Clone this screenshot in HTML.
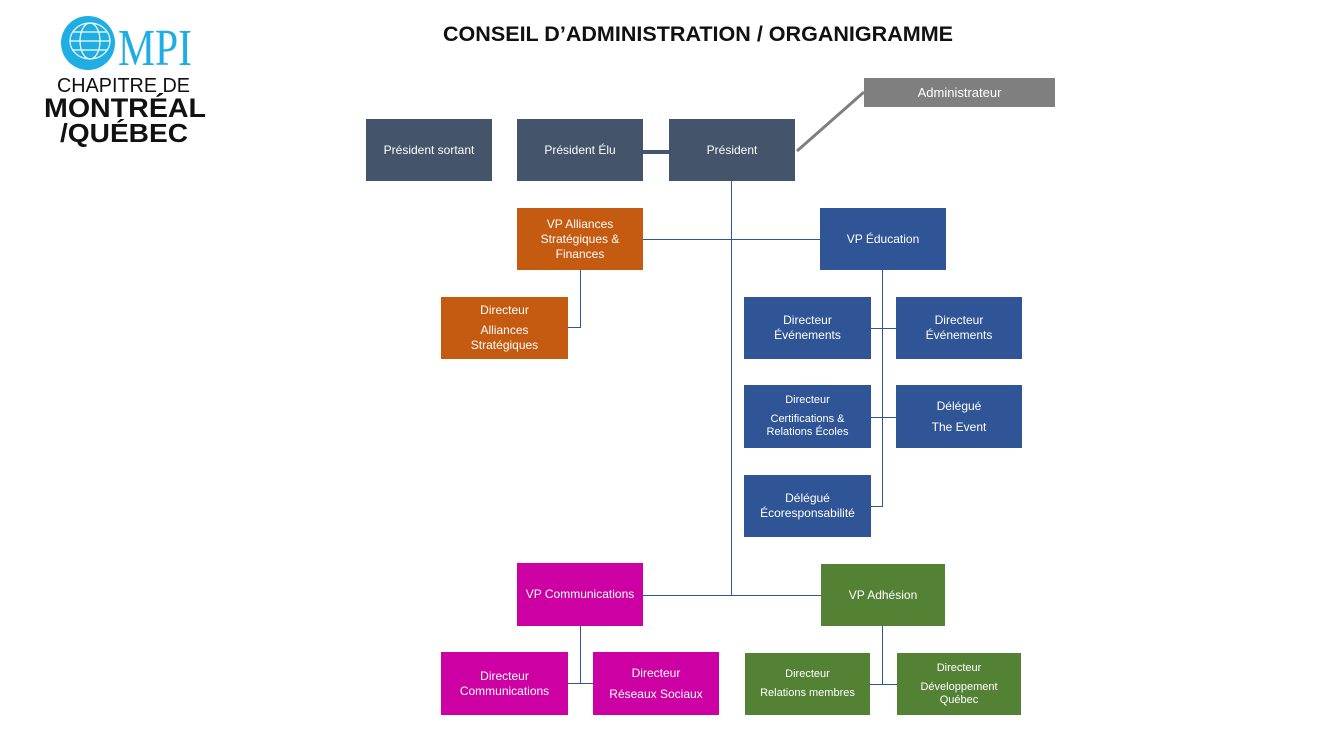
<!DOCTYPE html>
<html><head><meta charset="utf-8"><style>
body{margin:0;width:1333px;height:742px;background:#fff;position:relative;overflow:hidden;font-family:"Liberation Sans",sans-serif}
.b{position:absolute;color:#fff;font-size:12px;display:flex;flex-direction:column;align-items:center;justify-content:center;text-align:center;line-height:15px;box-sizing:border-box}
.s{background:#44546a}.u{background:#2f5597}.o{background:#c55a11}.m{background:#cc00a3}.g{background:#548235}
.l{position:absolute;background:#2f5597}
.k{background:#44546a}
</style></head><body>
<svg style="position:absolute;left:0;top:0" width="1333" height="60"><text x="443" y="41" textLength="510" lengthAdjust="spacingAndGlyphs" font-family="Liberation Sans" font-weight="bold" font-size="21" fill="#111">CONSEIL D’ADMINISTRATION / ORGANIGRAMME</text></svg>
<!-- logo -->
<svg style="position:absolute;left:40px;top:10px" width="180" height="140">
<circle cx="48" cy="33" r="27" fill="#1eaee4"/>
<g stroke="#fff" stroke-width="1.2" fill="none"><ellipse cx="50" cy="31" rx="20" ry="18"/><ellipse cx="50" cy="31" rx="10" ry="18"/><line x1="30" y1="31" x2="70" y2="31"/><line x1="33" y1="22" x2="67" y2="22"/><line x1="33" y1="40" x2="67" y2="40"/></g>
<text x="78" y="55" textLength="74" lengthAdjust="spacingAndGlyphs" font-family="Liberation Serif" font-size="52" fill="#1eaee4">MPI</text>
<text x="17" y="82" textLength="133" lengthAdjust="spacingAndGlyphs" font-size="20" fill="#111">CHAPITRE DE</text>
<text x="4" y="107" textLength="162" lengthAdjust="spacingAndGlyphs" font-size="27" font-weight="bold" fill="#111">MONTRÉAL</text>
<text x="20" y="132" textLength="128" lengthAdjust="spacingAndGlyphs" font-size="26" font-weight="bold" fill="#111">/QUÉBEC</text>
</svg>
<!-- lines -->
<div class="l k" style="left:643px;top:150px;width:26px;height:4px"></div>
<svg style="position:absolute;left:0;top:0" width="1333" height="742"><line x1="797" y1="151" x2="864" y2="92" stroke="#7f7f7f" stroke-width="3"/></svg>
<div class="l" style="left:731px;top:181px;width:1px;height:415px"></div>
<div class="l" style="left:643px;top:239px;width:177px;height:1px"></div>
<div class="l o" style="left:580px;top:270px;width:1px;height:58px"></div>
<div class="l o" style="left:568px;top:327px;width:13px;height:1px"></div>
<div class="l" style="left:882px;top:270px;width:1px;height:237px"></div>
<div class="l" style="left:871px;top:328px;width:25px;height:1px"></div>
<div class="l" style="left:871px;top:417px;width:25px;height:1px"></div>
<div class="l" style="left:871px;top:506px;width:12px;height:1px"></div>
<div class="l" style="left:643px;top:595px;width:178px;height:1px"></div>
<div class="l m" style="left:580px;top:626px;width:1px;height:58px"></div>
<div class="l m" style="left:568px;top:683px;width:25px;height:1px"></div>
<div class="l g" style="left:882px;top:626px;width:1px;height:58px"></div>
<div class="l g" style="left:870px;top:684px;width:27px;height:1px"></div>
<!-- boxes -->
<div class="b" style="left:864px;top:78px;width:191px;height:29px;background:#7f7f7f;font-size:13px">Administrateur</div>
<div class="b s" style="left:366px;top:119px;width:126px;height:62px">Président sortant</div>
<div class="b s" style="left:517px;top:119px;width:126px;height:62px">Président Élu</div>
<div class="b s" style="left:669px;top:119px;width:126px;height:62px">Président</div>
<div class="b o" style="left:517px;top:208px;width:126px;height:62px">VP Alliances<br>Stratégiques &amp;<br>Finances</div>
<div class="b u" style="left:820px;top:208px;width:126px;height:62px">VP Éducation</div>
<div class="b o" style="left:441px;top:297px;width:127px;height:62px">Directeur<br><span style="margin-top:5px">Alliances<br>Stratégiques</span></div>
<div class="b u" style="left:744px;top:297px;width:127px;height:62px">Directeur<br>Événements</div>
<div class="b u" style="left:896px;top:297px;width:126px;height:62px">Directeur<br>Événements</div>
<div class="b u" style="left:744px;top:385px;width:127px;height:63px;font-size:11px;line-height:13px">Directeur<br><span style="margin-top:6px">Certifications &amp;<br>Relations Écoles</span></div>
<div class="b u" style="left:896px;top:385px;width:126px;height:63px;line-height:21px">Délégué<br>The Event</div>
<div class="b u" style="left:744px;top:475px;width:127px;height:62px">Délégué<br>Écoresponsabilité</div>
<div class="b m" style="left:517px;top:563px;width:126px;height:63px">VP Communications</div>
<div class="b g" style="left:821px;top:564px;width:124px;height:62px">VP Adhésion</div>
<div class="b m" style="left:441px;top:652px;width:127px;height:63px">Directeur<br>Communications</div>
<div class="b m" style="left:593px;top:652px;width:126px;height:63px;line-height:21px">Directeur<br>Réseaux Sociaux</div>
<div class="b g" style="left:745px;top:653px;width:125px;height:62px;font-size:11px;line-height:19px">Directeur<br>Relations membres</div>
<div class="b g" style="left:897px;top:653px;width:124px;height:62px;font-size:11px;line-height:13px">Directeur<br><span style="margin-top:6px">Développement<br>Québec</span></div>
</body></html>
